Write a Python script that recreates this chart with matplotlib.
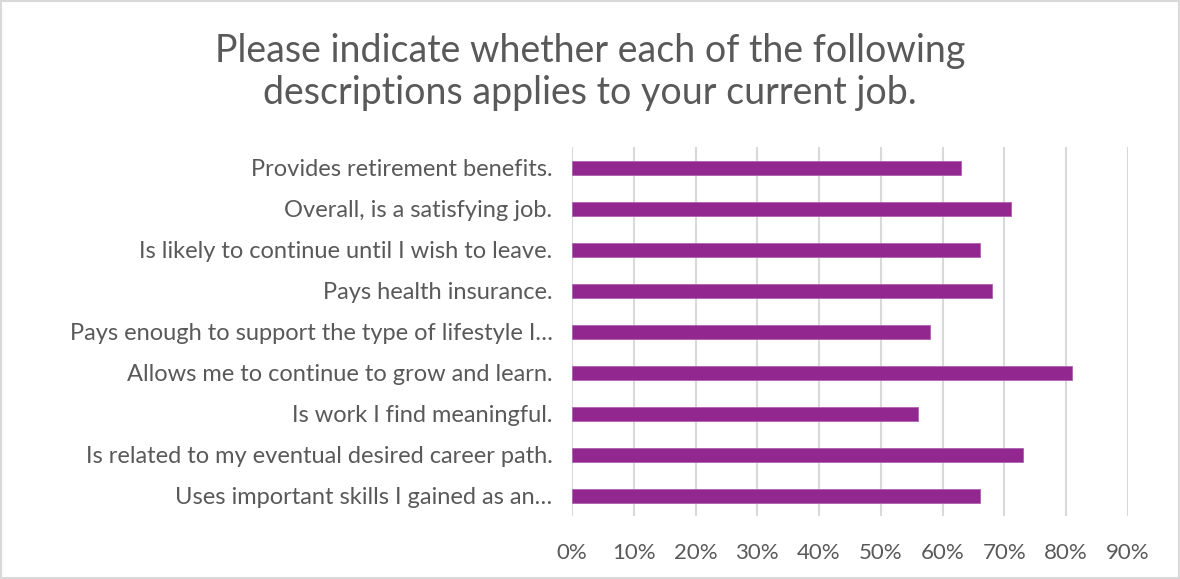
import matplotlib
matplotlib.use('Agg')
import matplotlib.pyplot as plt
import matplotlib.ticker as mticker
from matplotlib.patches import Rectangle

# survey items, top to bottom as shown
labels = [
    'Provides retirement benefits.',
    'Overall, is a satisfying job.',
    'Is likely to continue until I wish to leave.',
    'Pays health insurance.',
    'Pays enough to support the type of lifestyle I\u2026',
    'Allows me to continue to grow and learn.',
    'Is work I find meaningful.',
    'Is related to my eventual desired career path.',
    'Uses important skills I gained as an\u2026',
]
values = [0.63, 0.71, 0.66, 0.68, 0.58, 0.81, 0.56, 0.73, 0.66]
xticks = [0, 0.1, 0.2, 0.3, 0.4, 0.5, 0.6, 0.7, 0.8, 0.9]

title = 'Please indicate whether each of the following\ndescriptions applies to your current job.'

bar_color = '#92278f'
text_color = '#595959'
grid_color = '#d9d9d9'

plt.rcParams['font.family'] = ['Lato', 'DejaVu Sans']

fig = plt.figure(figsize=(11.8, 5.79), dpi=100)
ax = fig.add_axes([0.4847, 0.108, 0.4712, 0.6373])

y = list(range(len(labels)))
ax.barh(y, values, height=0.34, color=bar_color, edgecolor='#b060b0', linewidth=0.6, zorder=3)
ax.set_ylim(len(labels) - 0.5, -0.5)
ax.set_yticks(y)
ax.set_yticklabels(labels, fontsize=17, color=text_color)

ax.set_xlim(0, 0.9)
ax.set_xticks(xticks)
ax.xaxis.set_major_formatter(mticker.PercentFormatter(1.0, decimals=0))
ax.tick_params(axis='x', labelsize=16, labelcolor=text_color, length=0, pad=19)
ax.tick_params(axis='y', length=0, pad=14)
ax.grid(axis='x', color=grid_color, linewidth=1.5, zorder=0)
ax.set_axisbelow(True)
for s in ax.spines.values():
    s.set_visible(False)

fig.text(0.5, 0.876, title, ha='center', va='center', fontsize=27,
         color=text_color, linespacing=1.2)

# chart area border
fig.patches.append(Rectangle((0.001, 0.002), 0.998, 0.996, transform=fig.transFigure,
                             fill=False, edgecolor=grid_color, linewidth=1.5))

fig.savefig('out.png', dpi=100)
